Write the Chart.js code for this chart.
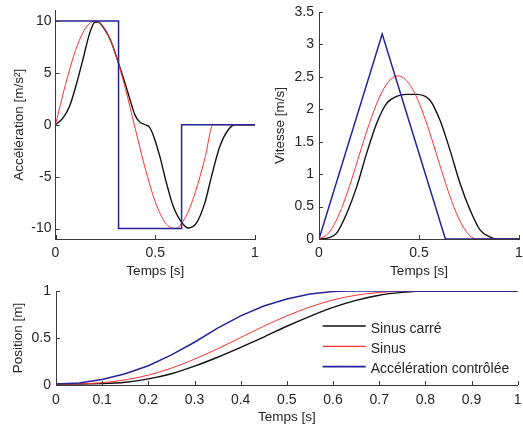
<!DOCTYPE html>
<html>
<head>
<meta charset="utf-8">
<script src="https://cdn.jsdelivr.net/npm/chart.js@4/dist/chart.umd.min.js"></script>
<style>
  html, body { margin: 0; padding: 0; background: #ffffff; }
  body { width: 523px; height: 430px; position: relative; overflow: hidden; }
  canvas { position: absolute; }
</style>
</head>
<body>
<canvas id="acc" width="265" height="285" style="left:0;top:0;width:265px;height:285px"></canvas>
<canvas id="vel" width="258" height="285" style="left:265px;top:0;width:258px;height:285px"></canvas>
<canvas id="pos" width="523" height="150" style="left:0;top:280px;width:523px;height:150px"></canvas>
<script>
// ---------- Data ----------
const seriesNames = ['Sinus carré', 'Sinus', 'Accélération contrôlée'];

// Acceleration [m/s²]
const accTimeBlack = [0, 0.037, 0.07, 0.104, 0.137, 0.171, 0.196, 0.213, 0.246, 0.28, 0.313, 0.355, 0.38, 0.397, 0.42, 0.45, 0.47, 0.49, 0.523, 0.556, 0.59, 0.623, 0.665, 0.707, 0.749, 0.782, 0.824, 0.866, 0.9, 1];
const accBlack     = [0, 0.64, 1.76, 3.85, 6.25, 8.8, 9.85, 9.9, 9.2, 7.95, 6.1, 3.6, 2.0, 1.0, 0.3, 0.0, -0.2, -1.0, -3.05, -5.6, -7.85, -9.13, -9.94, -9.45, -7.5, -4.97, -2.08, -0.48, 0, 0];
const accTimeRed   = [0, 0.05, 0.1, 0.15, 0.2, 0.25, 0.3, 0.35, 0.4, 0.45, 0.5, 0.55, 0.6, 0.65, 0.7, 0.75, 0.79, 1];
const accRed       = [0, 3.87, 7.14, 9.29, 10.0, 9.14, 6.86, 3.5, -0.4, -4.24, -7.41, -9.44, -9.98, -8.96, -6.56, -3.14, 0, 0];
const accTimeBlue  = [0, 0.316, 0.316, 0.632, 0.632, 1];
const accBlue      = [10, 10, -10, -10, 0, 0];

// Velocity [m/s]
const velTimeBlack = [0, 0.05, 0.088, 0.138, 0.188, 0.238, 0.288, 0.338, 0.388, 0.438, 0.488, 0.555, 0.605, 0.655, 0.705, 0.755, 0.805, 0.855, 0.9, 1];
const velBlack     = [0, 0.02, 0.09, 0.39, 0.80, 1.32, 1.78, 2.09, 2.2, 2.23, 2.23, 2.14, 1.83, 1.37, 0.86, 0.45, 0.14, 0.03, 0, 0];
const velTimeRed   = [0, 0.05, 0.1, 0.15, 0.2, 0.25, 0.3, 0.35, 0.395, 0.45, 0.5, 0.55, 0.6, 0.65, 0.7, 0.75, 0.79, 1];
const velRed       = [0, 0.098, 0.377, 0.793, 1.282, 1.767, 2.171, 2.435, 2.515, 2.396, 2.101, 1.673, 1.183, 0.70, 0.308, 0.064, 0, 0];
const velTimeBlue  = [0, 0.316, 0.632, 1];
const velBlue      = [0, 3.16, 0, 0];

// Position [m]
const posTime      = [0, 0.05, 0.1, 0.15, 0.2, 0.25, 0.3, 0.35, 0.4, 0.45, 0.5, 0.55, 0.6, 0.65, 0.7, 0.75, 0.8, 1];
const posBlack     = [0.01, 0.01, 0.015, 0.03, 0.065, 0.12, 0.2, 0.295, 0.4, 0.51, 0.625, 0.73, 0.825, 0.9, 0.955, 0.985, 1, 1];
const posRed       = [0.01, 0.012, 0.025, 0.055, 0.105, 0.18, 0.275, 0.385, 0.505, 0.625, 0.735, 0.83, 0.905, 0.955, 0.985, 0.997, 1, 1];
const posTimeBlue  = [0, 0.05, 0.1, 0.15, 0.2, 0.25, 0.3, 0.35, 0.4, 0.45, 0.5, 0.55, 0.6, 0.632, 1];
const posBlue      = [0.01, 0.022, 0.058, 0.12, 0.205, 0.32, 0.455, 0.605, 0.735, 0.84, 0.915, 0.968, 0.995, 1, 1];

// Tick labels
const accYTicks = [-10, -5, 0, 5, 10];
const velYTicks = [0, 0.5, 1, 1.5, 2, 2.5, 3, 3.5];
const posYTicks = [0, 0.5, 1];
const topXTicks = [0, 0.5, 1];
const posXTicks = [0, 0.1, 0.2, 0.3, 0.4, 0.5, 0.6, 0.7, 0.8, 0.9, 1];

// ---------- Styling ----------
const FONT = "'Liberation Sans', Arial, Helvetica, sans-serif";
const TXT = '#262626';
const AXIS = '#3a3a3a';
const COL_BLACK = '#111111';
const COL_RED = '#ff3030';
const COL_BLUE = '#24249a';

function pts(xs, ys) { return xs.map((x, i) => ({ x: x, y: ys[i] })); }

function makeDatasets(tb, yb, tr, yr, tbl, ybl) {
  return [
    { label: seriesNames[0], data: pts(tb, yb), borderColor: COL_BLACK, borderWidth: 1.4, cubicInterpolationMode: 'monotone', order: 3 },
    { label: seriesNames[1], data: pts(tr, yr), borderColor: COL_RED, borderWidth: 1.0, cubicInterpolationMode: 'monotone', order: 2 },
    { label: seriesNames[2], data: pts(tbl, ybl), borderColor: COL_BLUE, borderWidth: 1.5, tension: 0, order: 1 }
  ];
}

// Inward tick marks, drawn from the library's scales
const inwardTicks = {
  id: 'inwardTicks',
  afterDraw(chart) {
    const ctx = chart.ctx, a = chart.chartArea;
    ctx.save();
    ctx.strokeStyle = AXIS;
    ctx.lineWidth = 1;
    const sx = chart.scales.x, sy = chart.scales.y;
    sx.ticks.forEach(t => {
      const px = Math.round(sx.getPixelForValue(t.value)) + 0.5;
      ctx.beginPath(); ctx.moveTo(px, a.bottom); ctx.lineTo(px, a.bottom - 4); ctx.stroke();
    });
    sy.ticks.forEach(t => {
      const py = Math.round(sy.getPixelForValue(t.value)) + 0.5;
      ctx.beginPath(); ctx.moveTo(a.left, py); ctx.lineTo(a.left + 4, py); ctx.stroke();
    });
    ctx.restore();
  }
};

// Legend drawn inside the position chart from its datasets
const insideLegend = {
  id: 'insideLegend',
  afterDraw(chart) {
    const o = chart.options.plugins.insideLegend;
    if (!o || !o.display) return;
    const ctx = chart.ctx, a = chart.chartArea;
    const x0 = a.right - o.offsetRight;
    ctx.save();
    ctx.font = '14px ' + FONT;
    ctx.textBaseline = 'middle';
    ctx.textAlign = 'left';
    chart.data.datasets.forEach((ds, i) => {
      const y = a.top + o.offsetTop + i * o.rowGap;
      ctx.strokeStyle = ds.borderColor;
      ctx.lineWidth = ds.borderWidth + 0.3;
      ctx.beginPath(); ctx.moveTo(x0, y); ctx.lineTo(x0 + o.lineLen, y); ctx.stroke();
      ctx.fillStyle = TXT;
      ctx.fillText(ds.label, x0 + o.lineLen + 5, y + 3);
    });
    ctx.restore();
  }
};

function makeChart(id, datasets, cfg) {
  return new Chart(document.getElementById(id), {
    type: 'line',
    data: { datasets: datasets },
    plugins: [inwardTicks, insideLegend],
    options: {
      responsive: false,
      animation: false,
      devicePixelRatio: 1,
      events: [],
      elements: { point: { radius: 0 }, line: { fill: false } },
      layout: { padding: cfg.padding },
      plugins: {
        legend: { display: false },
        tooltip: { enabled: false },
        insideLegend: cfg.legend || { display: false }
      },
      scales: {
        x: {
          type: 'linear', min: 0, max: 1,
          afterBuildTicks: s => { s.ticks = cfg.xTicks.map(v => ({ value: v })); },
          afterFit: s => { s.height = cfg.xHeight; s.paddingLeft = 0; s.paddingRight = 0; },
          grid: { display: true, drawOnChartArea: false, drawTicks: false },
          border: { display: true, color: AXIS, width: 1 },
          ticks: { color: TXT, font: { family: FONT, size: 14 }, padding: cfg.xTickPad, maxRotation: 0, autoSkip: false, callback: v => String(v) },
          title: { display: true, text: 'Temps [s]', color: TXT, font: { family: FONT, size: 13.5 }, padding: { top: 0, bottom: cfg.xTitlePad } }
        },
        y: {
          type: 'linear', min: cfg.yMin, max: cfg.yMax,
          afterBuildTicks: s => { s.ticks = cfg.yTicks.map(v => ({ value: v })); },
          afterFit: s => { s.width = cfg.yWidth; s.paddingTop = 0; s.paddingBottom = 0; },
          grid: { display: true, drawOnChartArea: false, drawTicks: false },
          border: { display: true, color: AXIS, width: 1 },
          ticks: { color: TXT, font: { family: FONT, size: 14 }, padding: cfg.yTickPad, autoSkip: false, callback: v => String(v) },
          title: { display: true, text: cfg.yTitle, color: TXT, font: { family: FONT, size: 13.5 }, padding: { top: cfg.yTitlePad, bottom: 0 } }
        }
      }
    }
  });
}

makeChart('acc', makeDatasets(accTimeBlack, accBlack, accTimeRed, accRed, accTimeBlue, accBlue), {
  padding: { left: 0, top: 10.5, right: 10, bottom: 0 },
  xTicks: topXTicks, yTicks: accYTicks, yMin: -11, yMax: 11,
  xHeight: 46, yWidth: 55.5, xTickPad: 5.8, yTickPad: 4, xTitlePad: 5.4, yTitlePad: 11,
  yTitle: 'Accélération [m/s²]'
});

makeChart('vel', makeDatasets(velTimeBlack, velBlack, velTimeRed, velRed, velTimeBlue, velBlue), {
  padding: { left: 0, top: 12, right: 4, bottom: 0 },
  xTicks: topXTicks, yTicks: velYTicks, yMin: 0, yMax: 3.5,
  xHeight: 46, yWidth: 54, xTickPad: 5.8, yTickPad: 5, xTitlePad: 5.4, yTitlePad: 7,
  yTitle: 'Vitesse [m/s]'
});

makeChart('pos', makeDatasets(posTime, posBlack, posTime, posRed, posTimeBlue, posBlue), {
  padding: { left: 0, top: 11, right: 5.3, bottom: 0 },
  xTicks: posXTicks, yTicks: posYTicks, yMin: 0, yMax: 1,
  xHeight: 45, yWidth: 56, xTickPad: 6.5, yTickPad: 5, xTitlePad: 5, yTitlePad: 10,
  yTitle: 'Position [m]',
  legend: { display: true, offsetRight: 195, offsetTop: 35, rowGap: 20.3, lineLen: 43 }
});
</script>
</body>
</html>
